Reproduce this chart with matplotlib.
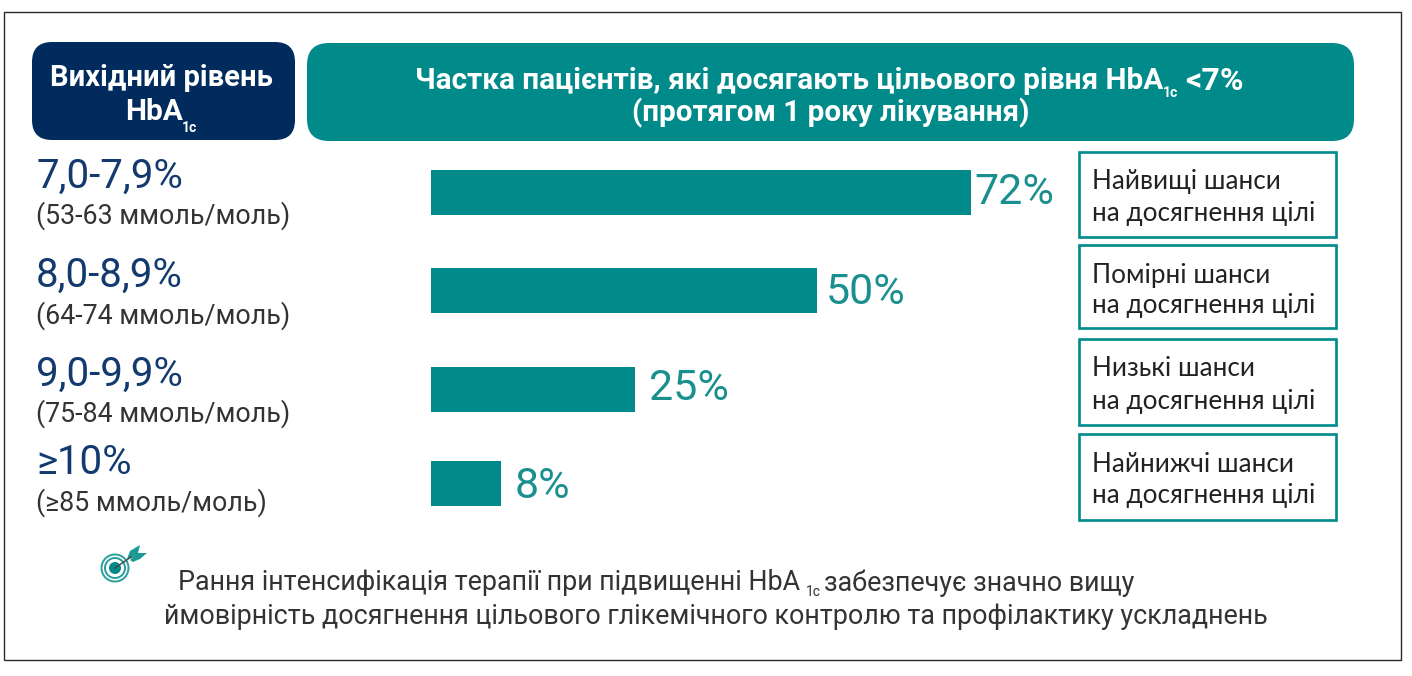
import matplotlib
matplotlib.use('Agg')
import matplotlib.pyplot as plt
from matplotlib.patches import FancyBboxPatch, Rectangle, Circle, Polygon

# datos
rangos = ['7,0-7,9%', '8,0-8,9%', '9,0-9,9%', '≥10%']
rangos_mmol = ['(53-63 ммоль/моль)', '(64-74 ммоль/моль)', '(75-84 ммоль/моль)', '(≥85 ммоль/моль)']
etiquetas = ['72%', '50%', '25%', '8%']
# las barras del original no son proporcionales a su etiqueta
largos = [72.0, 51.5, 27.2, 9.3]
shansy = ['Найвищі шанси', 'Помірні шанси', 'Низькі шанси', 'Найнижчі шанси']

TEAL = '#008a8a'
NAVY = '#002b5c'
GRIS = '#333333'
NARROW = ['Roboto', 'DejaVu Sans']
FUTURA = ['Lato', 'DejaVu Sans']

fig = plt.figure(figsize=(14.12, 6.76), dpi=100)
ax = fig.add_axes([0, 0, 1, 1])
ax.set_xlim(0, 1412)
ax.set_ylim(676, 0)
ax.axis('off')

# marco
ax.add_patch(Rectangle((4, 12), 1397, 648, fill=False, ec='#2a2a2a', lw=1.0))

# cabeceras
ax.add_patch(FancyBboxPatch((52, 62), 223, 58, boxstyle='round,pad=20,rounding_size=20', fc=NAVY, ec='none'))
ax.add_patch(FancyBboxPatch((327, 63), 1007, 58, boxstyle='round,pad=20,rounding_size=22', fc=TEAL, ec='none'))

estilo_cab = dict(color='white', fontweight='bold', family=NARROW, va='center')
ax.text(161, 78, 'Вихідний рівень', fontsize=21, ha='center', **estilo_cab)
ax.text(154, 112, 'HbA', fontsize=21.5, ha='center', **estilo_cab)
ax.text(189, 128, '1c', fontsize=10, ha='center', **estilo_cab)

ax.text(415, 81, 'Частка пацієнтів, які досягають цільового рівня HbA', fontsize=21.4, ha='left', **estilo_cab)
ax.text(1170, 93, '1c', fontsize=10, ha='center', **estilo_cab)
ax.text(1185, 81, '<7%', fontsize=23, ha='left', **estilo_cab)
ax.text(831, 113, '(протягом 1 року лікування)', fontsize=21.3, ha='center', **estilo_cab)

# columna izquierda
y_rango = [176, 275, 374, 462]
y_mmol = [216, 316, 414, 503]
for r, m, y1, y2 in zip(rangos, rangos_mmol, y_rango, y_mmol):
    ax.text(36, y1, r, color='#123a6e', fontsize=29, family=NARROW, ha='left', va='center')
    ax.text(36, y2, m, color=GRIS, fontsize=19.3, family=NARROW, ha='left', va='center')

# barras
ax_b = fig.add_axes([0, 0, 1, 1])
ax_b.patch.set_alpha(0)
ax_b.set_xlim(-431 / 7.5, (1412 - 431) / 7.5)
ax_b.set_ylim(676, 0)
ax_b.axis('off')
centros = [192, 290, 389, 483.5]
ax_b.barh(centros, largos, height=45, color=TEAL)
y_etiq = [193, 292, 388, 486]
sep = [0.5, 1.1, 1.9, 1.8]
for l, e, y, s in zip(largos, etiquetas, y_etiq, sep):
    ax_b.text(l + s, y, e, color='#1a8f8f', fontsize=31, family=NARROW, ha='left', va='center')

# cajas derecha
cajas = [(152, 237), (245, 328), (339, 425), (434, 520)]
y_seg = [214, 305, 401, 496]
for (y0, y1), s, y2 in zip(cajas, shansy, y_seg):
    ax.add_patch(Rectangle((1079, y0), 257, y1 - y0, fill=False, ec=TEAL, lw=1.9))
    ax.text(1092, y0 + 30, s, color='#222222', fontsize=18.8, family=FUTURA, ha='left', va='center')
    ax.text(1092, y2, 'на досягнення цілі', color='#222222', fontsize=18.8, family=FUTURA, ha='left', va='center')

# icono diana
ax.add_patch(Circle((115, 568), 13.5, fc='white', ec='#2a9d9d', lw=1.4))
ax.add_patch(Circle((115, 568), 10, fc='white', ec='#2a9d9d', lw=1.4))
ax.add_patch(Circle((115, 568), 6, fc=TEAL, ec='none'))
ax.plot([115, 131], [568, 557], color='#444444', lw=1)
ax.add_patch(Polygon([(127, 559), (130, 551), (140, 545), (138, 553), (132, 558)], fc='#1c9a94', ec='none'))
ax.add_patch(Polygon([(130, 560), (137, 553), (147, 553), (140, 559), (133, 562)], fc='#1c9a94', ec='none'))

# nota final
ax.text(178, 583, 'Рання інтенсифікація терапії при підвищенні HbA', color=GRIS, fontsize=19.4, family=NARROW,
        ha='left', va='center')
ax.text(813, 592, '1c', color=GRIS, fontsize=10, family=NARROW, ha='center', va='center')
ax.text(824, 583, 'забезпечує значно вищу', color=GRIS, fontsize=19.4, family=NARROW, ha='left', va='center')
ax.text(164, 617, 'ймовірність досягнення цільового глікемічного контролю та профілактику ускладнень', color=GRIS,
        fontsize=19.4, family=NARROW, ha='left', va='center')

fig.savefig('out.png', dpi=100, facecolor='white')
